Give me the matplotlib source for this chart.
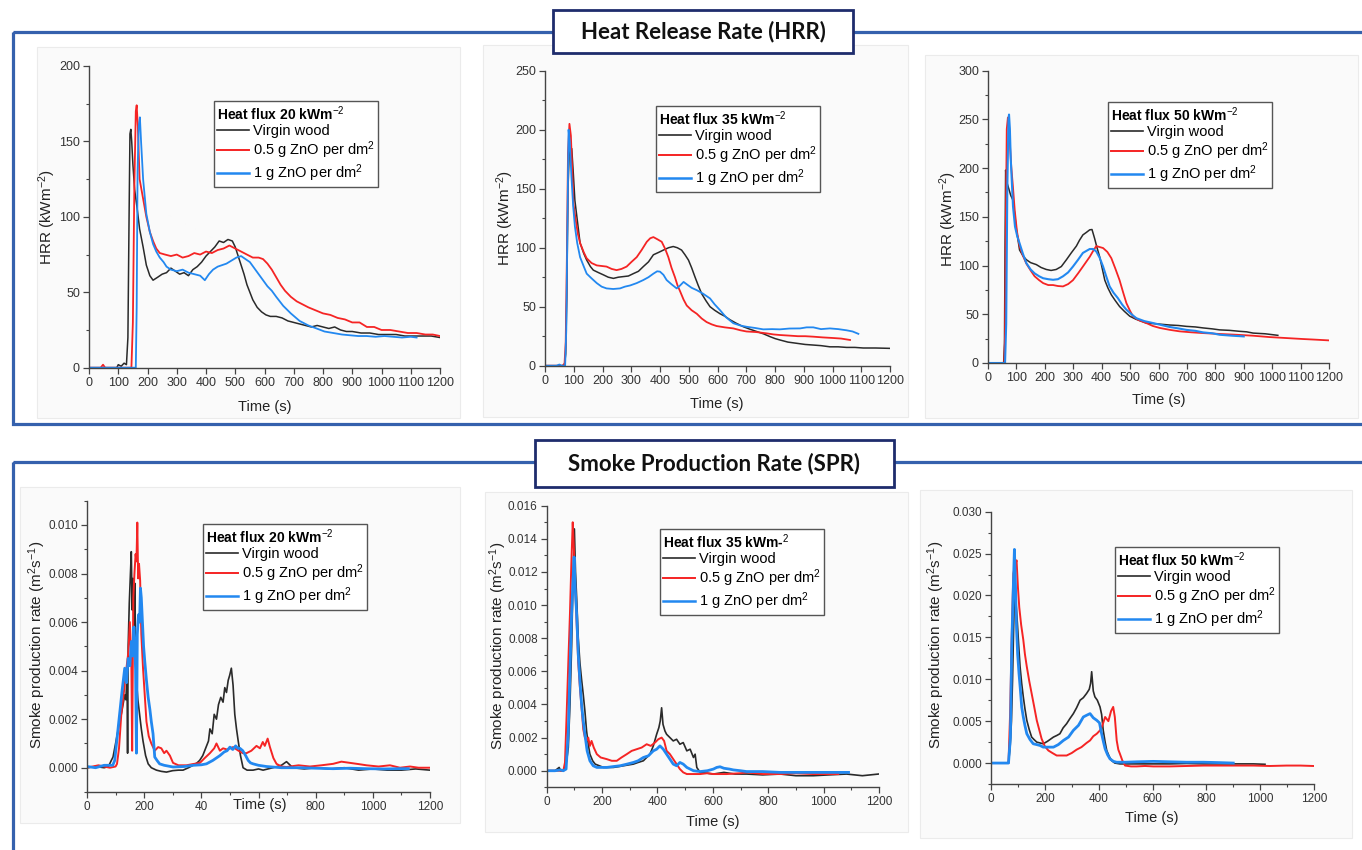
import numpy as np
import matplotlib
matplotlib.use("Agg")
import matplotlib.pyplot as plt
from matplotlib.patches import Rectangle
from matplotlib.lines import Line2D
from matplotlib.ticker import MultipleLocator, FormatStrFormatter

W, H = 1362, 850

plt.rcParams['font.family'] = ['Liberation Sans', 'DejaVu Sans']
plt.rcParams['mathtext.fontset'] = 'custom'
plt.rcParams['mathtext.rm'] = 'Liberation Sans'
plt.rcParams['mathtext.it'] = 'Liberation Sans:italic'
plt.rcParams['mathtext.bf'] = 'Liberation Sans:bold'

# ---------------- HRR, heat flux 20 kW/m2 ----------------
hrr20_t_wood = [0, 95, 100, 110, 120, 128, 133, 137, 140, 143, 146, 150, 156, 165, 173, 185, 196, 208, 219, 235,
                250, 265, 280, 295, 310, 325, 340, 355, 370, 385, 400, 415, 430, 445, 460, 475, 490, 500, 510, 520,
                530, 540, 550, 560, 575, 590, 605, 620, 640, 660, 680, 700, 720, 740, 760, 780, 800, 820, 840, 860,
                880, 900, 930, 960, 990, 1020, 1050, 1080, 1110, 1140, 1170, 1200]
hrr20_wood = [0, 0, 2, 1, 3, 2, 20, 100, 155, 158, 150, 135, 118, 105, 92, 80, 68, 61, 58, 60,
              62, 63, 66, 64, 62, 63, 61, 65, 67, 70, 74, 77, 80, 84, 83, 85, 84, 80, 74, 68,
              62, 55, 50, 45, 40, 37, 35, 34, 34, 33, 31, 30, 29, 28, 27, 28, 27, 26, 27, 25,
              24, 24, 23, 23, 22, 22, 22, 21, 21, 21, 21, 20]
hrr20_t_half = [0, 40, 48, 55, 145, 150, 155, 160, 163, 167, 173, 185, 196, 208, 219, 230, 242, 260, 280, 300,
                320, 340, 360, 380, 400, 420, 440, 460, 480, 500, 520, 540, 560, 580, 595, 610, 625, 640, 655, 670,
                690, 710, 730, 750, 775, 800, 825, 850, 875, 900, 925, 950, 975, 1000, 1030, 1060, 1090, 1120, 1150, 1175,
                1200]
hrr20_half = [0, 0, 2, 0, 0, 30, 120, 170, 174, 160, 125, 112, 100, 90, 84, 79, 76, 75, 74, 75,
              73, 74, 76, 75, 77, 76, 78, 79, 81, 79, 77, 75, 73, 73, 72, 69, 65, 60, 55, 51,
              47, 44, 42, 40, 38, 36, 35, 33, 32, 30, 30, 27, 27, 25, 25, 24, 23, 23, 22, 22,
              21]
hrr20_t_one = [0, 160, 163, 166, 170, 174, 178, 185, 196, 208, 219, 230, 242, 255, 265, 280, 300, 320, 340, 360,
               380, 396, 410, 424, 440, 455, 470, 487, 504, 520, 535, 550, 565, 580, 595, 610, 625, 640, 664, 690,
               720, 750, 778, 805, 835, 865, 892, 920, 949, 980, 1010, 1040, 1070, 1100, 1120]
hrr20_one = [0, 0, 40, 130, 160, 166, 150, 125, 102, 90, 82, 77, 73, 70, 67, 65, 64, 65, 63, 62,
             61, 58, 62, 65, 67, 68, 69, 71, 73, 74, 72, 70, 66, 62, 58, 54, 51, 47, 41, 36,
             31, 28, 26, 24, 23, 22, 21.5, 21, 21, 20.5, 21, 20.5, 20, 20.5, 20]

# ---------------- HRR, heat flux 35 kW/m2 ----------------
hrr35_t_wood = [0, 60, 68, 72, 76, 80, 84, 88, 93, 98, 104, 110, 122, 135, 145, 158, 168, 185, 203, 220,
                238, 255, 272, 290, 307, 325, 342, 360, 377, 395, 412, 430, 446, 460, 475, 487, 499, 510, 522, 533,
                545, 560, 574, 590, 609, 625, 643, 665, 690, 712, 736, 760, 783, 800, 817, 845, 875, 905, 933, 960,
                991, 1020, 1049, 1078, 1107, 1150, 1198]
hrr35_wood = [0, 0, 1, 10, 60, 150, 178, 183, 184, 165, 140, 128, 104, 95, 89.5, 84, 81, 79, 77, 75,
              74, 75, 75.5, 76, 78, 80, 84, 88, 94, 96, 98, 100, 101, 100, 98, 94, 89.5, 83, 75, 68,
              61, 55, 50, 47, 44, 42, 39, 36, 33, 31, 29, 27, 24.6, 23, 21.8, 20, 19, 18, 17.5, 17,
              16, 16, 15.5, 15.5, 15, 15, 14.7]
hrr35_t_half = [0, 62, 68, 72, 76, 80, 85, 90, 94, 99, 106, 114, 122, 135, 145, 162, 180, 197, 214, 232,
                249, 266, 284, 301, 319, 336, 354, 366, 377, 392, 406, 418, 429, 440, 452, 461, 470, 482, 493, 510,
                528, 545, 562, 580, 597, 625, 655, 680, 701, 735, 771, 795, 817, 850, 880, 905, 933, 965, 1000, 1030,
                1061]
hrr35_half = [0, 0, 2, 20, 90, 180, 205, 195, 170, 137, 125, 112, 104, 96, 91, 87, 85, 84.5, 84, 82,
              81, 82, 84, 88, 92, 98, 105, 108, 109, 107, 105, 99, 92, 83, 75, 68, 63, 56, 51, 47,
              44, 40, 37, 35, 33.6, 32.5, 31.6, 30, 29, 28.5, 27.4, 26.5, 26, 25.5, 25, 25, 24.6, 24, 23.5, 23,
              21.8]
hrr35_t_one = [0, 40, 50, 58, 70, 74, 78, 82, 86, 92, 98, 104, 112, 122, 135, 145, 162, 180, 197, 214,
               237, 261, 278, 296, 319, 342, 360, 377, 390, 400, 412, 423, 440, 458, 470, 482, 493, 510, 528, 550,
               574, 590, 609, 630, 655, 680, 701, 730, 759, 790, 817, 850, 887, 910, 933, 960, 991, 1020, 1049, 1070,
               1090]
hrr35_one = [0, 0, 1, 0, 0, 30, 120, 200, 190, 160, 135, 118, 104, 92, 84, 78, 74, 70, 67, 65.5,
             65, 65.5, 67, 68, 70, 72.6, 75, 78, 80, 79.7, 77, 72.6, 69, 65.5, 68, 71, 69, 66, 64, 61,
             57, 52, 47, 41, 36, 34, 33, 32, 30.8, 31, 30.8, 31.5, 31.6, 32.5, 32.5, 31, 31.6, 31, 30, 29,
             27]

# ---------------- HRR, heat flux 50 kW/m2 ----------------
hrr50_t_wood = [0, 55, 58, 60, 62, 64, 67, 72, 80, 88, 95, 100, 111, 123, 135, 150, 170, 187, 205, 222,
                240, 258, 276, 293, 311, 322, 334, 346, 358, 366, 375, 384, 393, 402, 411, 422, 434, 448, 463, 480,
                499, 520, 557, 600, 639, 670, 698, 730, 757, 790, 815, 850, 886, 910, 933, 975, 1020]
hrr50_wood = [0, 0, 20, 120, 198, 190, 185, 180, 172, 167, 150, 137, 116, 110, 106, 103, 101, 98, 96, 95,
              96, 99, 106, 113, 120, 126, 131.5, 134, 136.7, 137, 128, 118, 109, 97, 85, 77, 70, 64, 58, 53,
              48, 45, 41, 40, 39, 38.5, 37.6, 37, 36, 35, 34, 33.5, 32.5, 32, 30.7, 30, 28.4]
hrr50_t_half = [0, 57, 60, 63, 66, 70, 74, 78, 82, 88, 94, 102, 111, 123, 135, 150, 164, 180, 194, 212,
                229, 246, 264, 282, 299, 317, 334, 346, 358, 370, 381, 393, 405, 420, 434, 448, 463, 475, 487, 499,
                510, 530, 557, 580, 604, 640, 674, 715, 757, 815, 874, 933, 991, 1050, 1109, 1150, 1200]
hrr50_half = [0, 0, 30, 150, 240, 252, 245, 220, 201, 180, 157, 135, 120, 110, 102, 95, 89, 85, 82, 80,
              80, 79, 78.6, 81, 85, 92, 99, 104, 109, 115, 120, 119, 118, 114, 107.6, 97, 85, 73, 61.5, 54,
              48, 44, 41, 38, 36, 34, 32.5, 31.5, 30.7, 29.8, 29, 28, 26.6, 25.6, 24.6, 24, 23.2]
hrr50_t_one = [0, 60, 64, 68, 72, 74, 77, 80, 84, 88, 95, 103, 111, 123, 135, 150, 164, 180, 194, 212,
               229, 246, 264, 282, 299, 317, 334, 346, 358, 370, 381, 393, 405, 416, 428, 442, 457, 472, 487, 505,
               522, 550, 581, 610, 639, 670, 698, 730, 757, 790, 815, 860, 900]
hrr50_one = [0, 0, 40, 180, 250, 255, 240, 210, 185, 160.6, 140, 130, 123, 112, 102.5, 96, 92, 89, 87, 86,
             85.4, 86, 89, 93, 99, 106, 113, 115, 117, 117, 114.5, 108, 99, 89, 78.6, 72, 66.6, 60, 54.7, 50,
             46, 43, 41, 39, 37, 35.5, 34, 33, 31.4, 30.5, 29, 28, 27.3]

# ---------------- SPR (values in 1e-3 m2/s), heat flux 20 ----------------
spr20_t_wood = [0, 30, 60, 75, 85, 91, 100, 108, 114, 120, 126, 132, 136, 140, 142, 144, 148, 152, 155, 158,
                161, 164, 167, 170, 173, 178, 184, 190, 196, 205, 214, 225, 243, 260, 278, 300, 320, 336, 355, 371,
                385, 394, 405, 415, 425, 430, 438, 445, 453, 460, 468, 476, 482, 488, 494, 499, 505, 511, 517, 523,
                529, 537, 546, 560, 581, 600, 616, 650, 680, 698, 720, 760, 800, 850, 900, 950, 1000, 1050, 1100, 1150,
                1200]
spr20_wood = [0, 0.05, 0, 0.05, 0.3, 0.44, 1.0, 1.5, 1.9, 2.2, 2.6, 3.0, 2.8, 3.8, 0.6, 5.0, 6.8, 8.0, 8.9, 6.5,
              7.8, 5.5, 7.6, 4.8, 3.6, 2.8, 2.2, 1.6, 1.1, 0.5, 0.16, 0, -0.1, -0.15, -0.18, -0.12, -0.1, -0.1, 0, 0.1,
              0.2, 0.3, 0.5, 0.8, 1.1, 1.6, 1.4, 2.2, 2.0, 2.6, 2.9, 2.7, 3.3, 3.1, 3.6, 3.8, 4.1, 3.4, 2.2, 1.6,
              1.1, 0.5, 0, -0.1, -0.1, -0.05, -0.1, 0, 0.1, 0.25, 0, -0.05, 0, -0.05, 0, -0.1, -0.05, -0.1, -0.1, -0.05,
              -0.1]
spr20_t_half = [0, 40, 80, 100, 105, 112, 120, 128, 138, 145, 150, 155, 158, 162, 166, 170, 173, 176, 179, 182,
                186, 190, 196, 202, 208, 216, 225, 237, 249, 260, 270, 278, 290, 301, 320, 348, 370, 395, 412, 430,
                445, 453, 465, 476, 490, 511, 530, 545, 558, 575, 593, 605, 615, 622, 632, 640, 652, 663, 680, 698,
                740, 780, 820, 861, 890, 920, 950, 978, 1020, 1060, 1095, 1130, 1160, 1200]
spr20_half = [0, 0.1, 0, 0.05, 0.16, 0.8, 2.2, 3.0, 4.1, 4.8, 6.0, 4.5, 0.7, 7.0, 8.0, 8.8, 8.5, 10.1, 7.8, 8.4,
              7.7, 5.5, 4.1, 3.0, 1.9, 1.3, 1.0, 0.7, 0.85, 0.8, 0.6, 0.7, 0.5, 0.2, 0.1, 0.1, 0.15, 0.2, 0.4, 0.6,
              0.8, 1.0, 0.7, 0.8, 0.75, 0.85, 0.7, 0.6, 0.6, 0.7, 0.9, 0.8, 1.06, 0.9, 1.2, 0.85, 0.4, 0.16, 0.05, 0.03,
              0.1, 0.05, 0.1, 0.16, 0.25, 0.2, 0.15, 0.1, 0.05, 0.1, 0, 0.05, 0, 0]
spr20_t_one = [0, 30, 60, 90, 97, 105, 114, 123, 132, 138, 144, 150, 155, 160, 164, 167, 170, 173, 176, 180,
               184, 187, 190, 194, 198, 202, 208, 214, 220, 225, 231, 237, 245, 254, 270, 301, 340, 371, 400, 418,
               440, 465, 480, 490, 500, 510, 520, 528, 535, 545, 555, 564, 572, 581, 600, 628, 680, 745, 800, 861,
               920, 978, 1040, 1090, 1124]
spr20_one = [0.05, 0, 0.1, 0.1, 0.3, 1.2, 2.2, 3.2, 4.1, 3.5, 4.5, 4.2, 5.2, 4.6, 5.8, 5.2, 4.0, 0.6, 5.5, 6.3,
             6.0, 7.4, 7.0, 6.0, 5.0, 4.4, 3.6, 2.9, 2.4, 1.9, 1.4, 0.44, 0.3, 0.16, 0.1, 0.03, 0.05, 0.1, 0.12, 0.16,
             0.3, 0.5, 0.65, 0.7, 0.85, 0.75, 0.9, 0.8, 0.8, 0.7, 0.5, 0.3, 0.2, 0.16, 0.1, 0.05, 0, 0, -0.02, -0.04,
             -0.02, -0.04, -0.05, -0.04, -0.04]

# ---------------- SPR (1e-3 m2/s), heat flux 35 ----------------
spr35_t_wood = [0, 30, 45, 50, 60, 66, 72, 78, 84, 90, 95, 100, 104, 108, 114, 120, 126, 132, 138, 144,
                150, 156, 166, 175, 190, 205, 225, 241, 260, 277, 295, 313, 330, 349, 361, 373, 385, 397, 405, 410,
                415, 420, 427, 433, 445, 457, 469, 481, 493, 506, 518, 530, 536, 542, 554, 580, 602, 640, 680, 722,
                780, 843, 900, 963, 1020, 1083, 1140, 1198]
spr35_wood = [0, 0, 0.2, 0, 0, 0.2, 0.6, 1.4, 4.0, 7.5, 11.5, 14.6, 12.0, 10.5, 8.0, 6.5, 5.5, 4.6, 3.6, 2.4,
              1.6, 1.0, 0.6, 0.4, 0.3, 0.2, 0.2, 0.2, 0.25, 0.3, 0.35, 0.4, 0.5, 0.6, 0.8, 1.0, 1.5, 2.2, 2.6, 3.0,
              3.8, 2.8, 2.4, 2.2, 2.0, 1.8, 1.9, 1.6, 1.7, 1.2, 1.3, 0.8, 1.0, 0.2, -0.1, -0.15, -0.2, -0.1, -0.2, -0.2,
              -0.25, -0.2, -0.3, -0.3, -0.25, -0.2, -0.3, -0.2]
spr35_t_half = [0, 40, 60, 66, 72, 78, 84, 89, 94, 98, 102, 108, 114, 120, 126, 132, 138, 144, 150, 156,
                162, 170, 181, 195, 217, 235, 253, 270, 289, 307, 325, 343, 361, 376, 391, 403, 415, 424, 433, 445,
                457, 469, 481, 493, 506, 530, 554, 580, 602, 650, 700, 722, 780, 843, 900, 963, 1010, 1053]
spr35_half = [0, 0, 0, 0.5, 3.4, 6.5, 9.5, 12.5, 15.0, 13.5, 11.5, 9.0, 6.5, 5.0, 3.8, 2.5, 2.0, 1.8, 2.0, 1.5,
              1.8, 1.4, 1.0, 0.8, 0.7, 0.6, 0.6, 0.8, 1.0, 1.2, 1.3, 1.4, 1.6, 1.5, 1.7, 1.9, 2.0, 1.8, 1.2, 1.0,
              0.7, 0.4, 0.1, -0.1, -0.2, -0.2, -0.2, -0.15, -0.2, -0.2, -0.15, -0.1, -0.2, -0.2, -0.15, -0.2, -0.2, -0.2]
spr35_t_one = [0, 30, 50, 60, 70, 78, 84, 90, 95, 99, 103, 108, 114, 120, 126, 132, 138, 146, 156, 168,
               181, 200, 217, 240, 265, 290, 313, 330, 349, 367, 385, 397, 409, 421, 433, 445, 457, 469, 481, 493,
               506, 518, 530, 554, 580, 602, 614, 626, 640, 660, 674, 700, 722, 780, 843, 900, 963, 1020, 1083, 1090]
spr35_one = [0, 0, 0.05, 0, 0.1, 2.4, 6.0, 9.5, 11.5, 12.9, 11.0, 9.5, 7.0, 5.4, 4.0, 3.0, 2.2, 1.2, 0.6, 0.3,
             0.2, 0.2, 0.2, 0.25, 0.3, 0.4, 0.5, 0.6, 0.8, 0.9, 1.2, 1.3, 1.5, 1.3, 1.0, 0.7, 0.4, 0.3, 0.5, 0.4,
             0.2, 0.1, 0, -0.05, 0, 0.1, 0.2, 0.24, 0.15, 0.1, 0.05, 0, -0.05, -0.05, -0.1, -0.1, -0.1, -0.1, -0.1, -0.1]

# ---------------- SPR (1e-3 m2/s), heat flux 50 ----------------
spr50_t_wood = [0, 65, 71, 76, 80, 84, 89, 93, 98, 103, 108, 114, 120, 126, 133, 142, 151, 160, 170, 182,
                194, 210, 232, 245, 256, 268, 281, 293, 306, 318, 331, 343, 355, 365, 370, 374, 380, 386, 395, 405,
                411, 417, 424, 430, 439, 448, 460, 479, 540, 603, 665, 727, 790, 851, 913, 975, 1018]
spr50_wood = [0, 0, 1.9, 5.0, 9.9, 16.0, 22.2, 19.0, 16.7, 14.0, 11.5, 9.5, 7.9, 6.5, 5.1, 4.0, 3.1, 2.8, 2.5, 2.4,
              2.3, 2.6, 3.1, 3.3, 3.5, 4.2, 4.7, 5.3, 5.9, 6.6, 7.5, 7.8, 8.3, 8.8, 9.5, 10.9, 8.6, 7.9, 7.5, 6.7,
              5.8, 3.9, 2.5, 1.5, 0.8, 0.3, 0, -0.1, -0.1, -0.1, -0.1, -0.05, -0.1, -0.1, -0.1, -0.1, -0.15]
spr50_t_half = [0, 65, 71, 77, 83, 89, 95, 100, 105, 112, 120, 126, 133, 142, 151, 160, 170, 179, 188, 200,
                213, 228, 244, 262, 281, 300, 318, 336, 355, 368, 380, 393, 405, 414, 424, 436, 446, 454, 460, 467,
                473, 479, 488, 498, 520, 541, 572, 603, 665, 727, 790, 851, 913, 975, 1036, 1098, 1150, 1197]
spr50_half = [0, 0, 5.9, 15.0, 22.6, 23.5, 24.2, 21.0, 18.6, 16.5, 14.7, 13.0, 11.5, 9.8, 8.3, 6.8, 5.1, 4.0, 2.9, 2.0,
              1.5, 1.2, 0.9, 0.9, 0.9, 1.2, 1.6, 1.9, 2.4, 2.7, 3.2, 3.5, 3.9, 4.5, 5.5, 5.0, 6.2, 6.7, 5.5, 2.7,
              1.6, 1.1, 0.3, -0.3, -0.4, -0.4, -0.35, -0.4, -0.4, -0.35, -0.3, -0.3, -0.3, -0.3, -0.35, -0.3, -0.3, -0.35]
spr50_t_one = [0, 65, 72, 77, 82, 87, 91, 95, 99, 104, 109, 114, 120, 126, 133, 145, 157, 170, 182, 194,
               213, 232, 250, 269, 288, 306, 325, 343, 355, 368, 380, 393, 403, 411, 418, 424, 433, 442, 455, 467,
               500, 541, 603, 665, 727, 790, 851, 900]
spr50_one = [0, 0, 3.0, 13.9, 20.0, 25.5, 21.0, 15.9, 13.0, 10.7, 8.8, 6.7, 5.5, 4.5, 3.5, 2.8, 2.3, 2.2, 2.1, 1.9,
             1.9, 1.9, 2.2, 2.7, 3.1, 3.9, 4.5, 5.5, 5.7, 5.9, 5.4, 5.1, 4.8, 3.5, 2.5, 1.7, 1.0, 0.5, 0.2, 0.1,
             0.1, 0.15, 0.2, 0.15, 0.1, 0.1, 0.05, 0]

series_labels = ['Virgin wood', '0.5 g ZnO per dm$^2$', '1 g ZnO per dm$^2$']
series_colors = ['#2a2a2a', '#f52424', '#2288f0']

BLACK, RED, BLUE = series_colors
FRAME = '#3561ad'
fig = plt.figure(figsize=(W / 100, H / 100), dpi=100)

# background layer in pixel coordinates (frames, panel cards, section titles)
bg = fig.add_axes([0, 0, 1, 1])
bg.set_xlim(0, W)
bg.set_ylim(H, 0)
bg.axis('off')

cards = [(37, 47, 460, 418), (483, 45, 908, 417), (925, 55, 1358, 418),
         (20, 487, 460, 823), (485, 492, 908, 832), (920, 490, 1352, 838)]
for l, t, r, b in cards:
    bg.add_patch(Rectangle((l, t), r - l, b - t, fc='#fafafa', ec='#ebebeb', lw=0.8))

bg.add_patch(Rectangle((13, 32), 1400, 392, fill=False, ec=FRAME, lw=2.3))
bg.add_patch(Rectangle((12.7, 462), 1400, 500, fill=False, ec=FRAME, lw=2.3))

bg.add_patch(Rectangle((553, 10), 300, 43, fc='white', ec='#1e2c6c', lw=2.0, zorder=3))
bg.text(703, 32, 'Heat Release Rate (HRR)', ha='center', va='center', fontsize=16,
        fontweight='bold', family=['Lato', 'DejaVu Sans'], color='#111', zorder=4)
bg.add_patch(Rectangle((535, 440), 359, 47, fc='white', ec='#1e2c6c', lw=2.0, zorder=3))
bg.text(714, 464, 'Smoke Production Rate (SPR)', ha='center', va='center', fontsize=16,
        fontweight='bold', family=['Lato', 'DejaVu Sans'], color='#111', zorder=4)


def fpos(l, t, r, b):
    return [l / W, 1 - b / H, (r - l) / W, (b - t) / H]


def make_panel(box, ylim, ymaj, ymin, xmaj, xmin, yfmt, ylabel, ylab_xy, xlab_xy,
               legend_xy, legend_title, tick_size):
    ax = fig.add_axes(fpos(*box))
    ax.patch.set_alpha(0)
    ax.set_xlim(0, 1200)
    ax.set_ylim(*ylim)
    for s in ['top', 'right']:
        ax.spines[s].set_visible(False)
    for s in ['left', 'bottom']:
        ax.spines[s].set_color('#444')
        ax.spines[s].set_linewidth(1.0)
    ax.xaxis.set_major_locator(MultipleLocator(xmaj))
    ax.yaxis.set_major_locator(MultipleLocator(ymaj))
    if xmin:
        ax.xaxis.set_minor_locator(MultipleLocator(xmin))
    ax.yaxis.set_minor_locator(MultipleLocator(ymin))
    ax.yaxis.set_major_formatter(FormatStrFormatter(yfmt))
    ax.tick_params(which='major', direction='out', length=4, width=0.9, colors='#444',
                   labelsize=tick_size, labelcolor='#333', pad=2.5)
    ax.tick_params(which='minor', direction='out', length=2.5, width=0.8, colors='#444')
    ax.set_ylabel(ylabel, fontsize=11, color='#222', va='center')
    ax.yaxis.set_label_coords(ylab_xy[0] / W, 1 - ylab_xy[1] / H, transform=fig.transFigure)
    ax.set_xlabel('Time (s)', fontsize=10.5, color='#222', va='center')
    ax.xaxis.set_label_coords(xlab_xy[0] / W, 1 - xlab_xy[1] / H, transform=fig.transFigure)
    handles = [Line2D([], [], color=c, lw=w) for c, w in zip(series_colors, [1.2, 1.4, 1.8])]
    ax.legend(handles, series_labels, loc='upper left',
              bbox_to_anchor=(legend_xy[0] / W, 1 - legend_xy[1] / H), bbox_transform=fig.transFigure,
              title=legend_title, title_fontproperties={'weight': 'bold', 'size': 10},
              alignment='left', frameon=True, fancybox=False, edgecolor='#555', framealpha=1,
              fontsize=10.5, handlelength=2.2, handletextpad=0.25, borderpad=0.2,
              labelspacing=0.1, borderaxespad=0)
    ax.get_legend().get_frame().set_linewidth(1.0)
    return ax


HRR_LABEL = 'HRR (kWm$^{-2}$)'
SPR_LABEL = 'Smoke production rate (m$^2$s$^{-1}$)'

# HRR panels
ax1 = make_panel((89, 66, 440, 367.7), (0, 200), 50, 25, 100, None, '%d', HRR_LABEL,
                 (47, 217), (265, 407), (214, 101), 'Heat flux 20 kWm$^{-2}$', 9)
ax1.plot(hrr20_t_wood, hrr20_wood, color=BLACK, lw=1.1)
ax1.plot(hrr20_t_half, hrr20_half, color=RED, lw=1.3)
ax1.plot(hrr20_t_one, hrr20_one, color=BLUE, lw=1.3)

ax2 = make_panel((545, 70.7, 890, 365.7), (0, 250), 50, 25, 100, None, '%d', HRR_LABEL,
                 (505, 218), (717, 404), (656, 106), 'Heat flux 35 kWm$^{-2}$', 9)
ax2.plot(hrr35_t_wood, hrr35_wood, color=BLACK, lw=1.1)
ax2.plot(hrr35_t_half, hrr35_half, color=RED, lw=1.3)
ax2.plot(hrr35_t_one, hrr35_one, color=BLUE, lw=1.3)

ax3 = make_panel((988, 70.7, 1329, 363), (0, 300), 50, 25, 100, None, '%d', HRR_LABEL,
                 (948, 219), (1159, 400), (1108, 102), 'Heat flux 50 kWm$^{-2}$', 9)
ax3.plot(hrr50_t_wood, hrr50_wood, color=BLACK, lw=1.1)
ax3.plot(hrr50_t_half, hrr50_half, color=RED, lw=1.3)
ax3.plot(hrr50_t_one, hrr50_one, color=BLUE, lw=1.5)

# SPR panels
ax4 = make_panel((87, 500.7, 430, 792), (-0.001, 0.011), 0.002, 0.001, 200, 100, '%.3f', SPR_LABEL,
                 (37, 645), (260, 805), (203, 524), 'Heat flux 20 kWm$^{-2}$', 8.5)
ax4.set_xticks([0, 200, 400, 600, 800, 1000, 1200])
ax4.set_xticklabels(['0', '200', '40', '', '800', '1000', '1200'])
ax4.plot(spr20_t_wood, np.array(spr20_wood) / 1000, color=BLACK, lw=1.2)
ax4.plot(spr20_t_half, np.array(spr20_half) / 1000, color=RED, lw=1.4)
ax4.plot(spr20_t_one, np.array(spr20_one) / 1000, color=BLUE, lw=2.0)

ax5 = make_panel((546.7, 505.7, 879, 787.3), (-0.001, 0.016), 0.002, 0.001, 200, 100, '%.3f', SPR_LABEL,
                 (498, 646), (713, 822), (660, 529), 'Heat flux 35 kWm-$^{2}$', 8.5)
ax5.plot(spr35_t_wood, np.array(spr35_wood) / 1000, color=BLACK, lw=1.2)
ax5.plot(spr35_t_half, np.array(spr35_half) / 1000, color=RED, lw=1.4)
ax5.plot(spr35_t_one, np.array(spr35_one) / 1000, color=BLUE, lw=2.0)

ax6 = make_panel((991, 511.7, 1314, 784), (-0.0025, 0.030), 0.005, 0.0025, 200, 100, '%.3f', SPR_LABEL,
                 (936, 645), (1152, 818), (1115, 547), 'Heat flux 50 kWm$^{-2}$', 8.5)
ax6.plot(spr50_t_wood, np.array(spr50_wood) / 1000, color=BLACK, lw=1.2)
ax6.plot(spr50_t_half, np.array(spr50_half) / 1000, color=RED, lw=1.4)
ax6.plot(spr50_t_one, np.array(spr50_one) / 1000, color=BLUE, lw=2.0)

fig.savefig('out.png', dpi=100)
